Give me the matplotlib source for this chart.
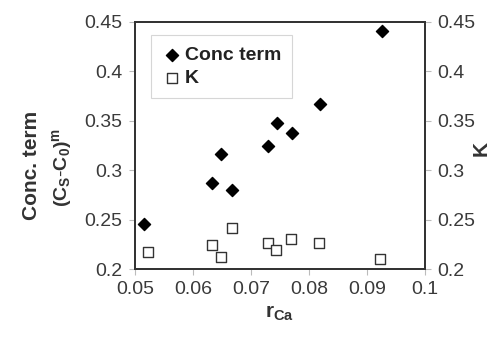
import matplotlib.pyplot as plt

r_ca_conc = [0.0516, 0.0632, 0.0648, 0.0668, 0.0730, 0.0744, 0.0770, 0.0819, 0.0925]
conc_term = [0.2455, 0.287, 0.316, 0.280, 0.325, 0.348, 0.338, 0.367, 0.441]

r_ca_k = [0.0522, 0.0632, 0.0648, 0.0667, 0.0729, 0.0743, 0.0769, 0.0817, 0.0923]
k_vals = [0.2175, 0.224, 0.212, 0.241, 0.226, 0.219, 0.230, 0.226, 0.2098]

x_ticks = [0.05, 0.06, 0.07, 0.08, 0.09, 0.1]
x_labels = ['0.05', '0.06', '0.07', '0.08', '0.09', '0.1']
y_ticks = [0.2, 0.25, 0.3, 0.35, 0.4, 0.45]
y_labels = ['0.2', '0.25', '0.3', '0.35', '0.4', '0.45']

plt.rcParams['font.family'] = ['Liberation Sans', 'DejaVu Sans']
plt.rcParams['mathtext.fontset'] = 'custom'
plt.rcParams['mathtext.rm'] = 'Liberation Sans'
plt.rcParams['mathtext.it'] = 'Liberation Sans'
plt.rcParams['mathtext.bf'] = 'Liberation Sans:bold'

fig = plt.figure(figsize=(4.91, 3.40), dpi=100)
ax = fig.add_axes([135 / 491, 71 / 340, 290 / 491, 247 / 340])
ax2 = ax.twinx()

ax.scatter(r_ca_conc, conc_term, marker='D', s=38, color='black', label='Conc term', zorder=3)
ax.scatter(r_ca_k, k_vals, marker='s', s=48, facecolor='white', edgecolor='#333333',
           linewidth=1.0, label='K', zorder=3)

ax.set_xlim(0.05, 0.1)
ax.set_ylim(0.2, 0.45)
ax2.set_ylim(0.2, 0.45)
ax.set_xticks(x_ticks, x_labels)
ax.set_yticks(y_ticks, y_labels)
ax2.set_yticks(y_ticks, y_labels)

tc = '#3a3a3a'
for a in (ax, ax2):
    a.tick_params(direction='out', length=4, width=0.8, color='#bbbbbb',
                  labelsize=14, labelcolor=tc, pad=5)
    for s in a.spines.values():
        s.set_color('#333333')
        s.set_linewidth(1.3)

ax.set_xlabel(r'$\mathbf{r_{Ca}}$', fontsize=15, color='#333333', labelpad=4)
fig.text(32 / 491, 1 - 165 / 340, 'Conc. term', rotation=90, fontsize=15, fontweight='bold',
         color='#333333', ha='center', va='center')
fig.text(62 / 491, 1 - 167 / 340, r'$\mathbf{(C_S\text{-}C_0)^m}$', rotation=90, fontsize=14,
         color='#333333', ha='center', va='center')
fig.text(481 / 491, 1 - 148 / 340, 'K', rotation=90, fontsize=15, fontweight='bold',
         color='#333333', ha='center', va='center')

leg = ax.legend(loc='upper left', bbox_to_anchor=(0.02, 0.985), frameon=True, fancybox=False,
                handletextpad=0.1, borderpad=0.55, labelspacing=0.3, handlelength=1.1,
                prop={'weight': 'bold', 'size': 14})
leg.get_frame().set_edgecolor('#cccccc')
leg.get_frame().set_linewidth(0.8)
for t in leg.get_texts():
    t.set_color('#222222')

plt.savefig('out.png', dpi=100)
plt.close()
